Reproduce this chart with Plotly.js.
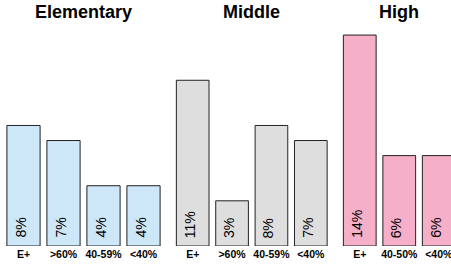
<!DOCTYPE html>
<html>
<head>
<meta charset="utf-8">
<script src="https://cdn.plot.ly/plotly-3.0.1.min.js"></script>
<style>
html, body { margin: 0; padding: 0; overflow: hidden; background: #fff; }
#chart { width: 460px; height: 267px; }
</style>
</head>
<body>
<div id="chart"></div>
<script>
// ---- data ----
const groupTitles = ['Elementary', 'Middle', 'High'];
const elemCats = ['E+', '>60%', '40-59%', '<40%'];
const elemVals = [8, 7, 4, 4];
const midCats = ['E+', '>60%', '40-59%', '<40%'];
const midVals = [11, 3, 8, 7];
const highCats = ['E+', '40-50%', '<40%'];
const highVals = [14, 6, 6];

// ---- styling ----
const colors = ['#cde6f8', '#dedede', '#f6afc8'];
const cats = [elemCats, midCats, highCats];
const vals = [elemVals, midVals, highVals];
const W = 460;
const domainsPx = [[3.5, 163.5], [173, 330.5], [340, 458.5]];
const FONT = 'Liberation Sans, Arial, sans-serif';
const axName = (p, i) => (i === 0 ? p : p + (i + 1));

const traces = cats.map((c, i) => ({
  type: 'bar',
  x: c,
  y: vals[i],
  xaxis: axName('x', i),
  yaxis: axName('y', i),
  marker: { color: colors[i], line: { color: '#222', width: 1 } },
  hoverinfo: 'none',
  showlegend: false
}));

const annotations = groupTitles.map((t, i) => ({
  text: t,
  showarrow: false,
  xref: axName('x', i) + ' domain',
  yref: 'paper',
  x: 0.5,
  y: 1.037,
  xanchor: 'center',
  yanchor: 'middle',
  font: { family: FONT, size: 18, weight: 'bold', color: '#000' }
}));

// rotated value labels at the bottom of each bar, from the data arrays
cats.forEach((c, i) => {
  c.forEach((cat, j) => {
    annotations.push({
      text: vals[i][j] + '%',
      showarrow: false,
      xref: axName('x', i),
      yref: axName('y', i),
      x: cat,
      y: 0,
      textangle: -90,
      xanchor: 'center',
      yanchor: 'bottom',
      xshift: -3,
      yshift: 6,
      font: { family: 'Liberation Sans', size: 14, color: '#000' }
    });
  });
});

const layout = {
  width: W,
  height: 267,
  margin: { l: 0, r: 0, t: 20, b: 21 },
  paper_bgcolor: '#fff',
  plot_bgcolor: '#fff',
  bargap: 0.17,
  font: { family: FONT, color: '#000' },
  annotations: annotations
};

domainsPx.forEach((d, i) => {
  layout[axName('xaxis', i)] = {
    domain: [d[0] / W, d[1] / W],
    anchor: axName('y', i),
    type: 'category',
    range: [-0.5, cats[i].length - 0.5],
    showgrid: false, zeroline: false, showline: false, ticks: '',
    tickfont: { family: FONT, size: 10.5, weight: 'bold', color: '#000' },
    fixedrange: true
  };
  layout[axName('yaxis', i)] = {
    domain: [0, 1],
    anchor: axName('x', i),
    range: [0, 15],
    visible: false,
    fixedrange: true
  };
});

Plotly.newPlot('chart', traces, layout, { staticPlot: true, displayModeBar: false });
</script>
</body>
</html>
